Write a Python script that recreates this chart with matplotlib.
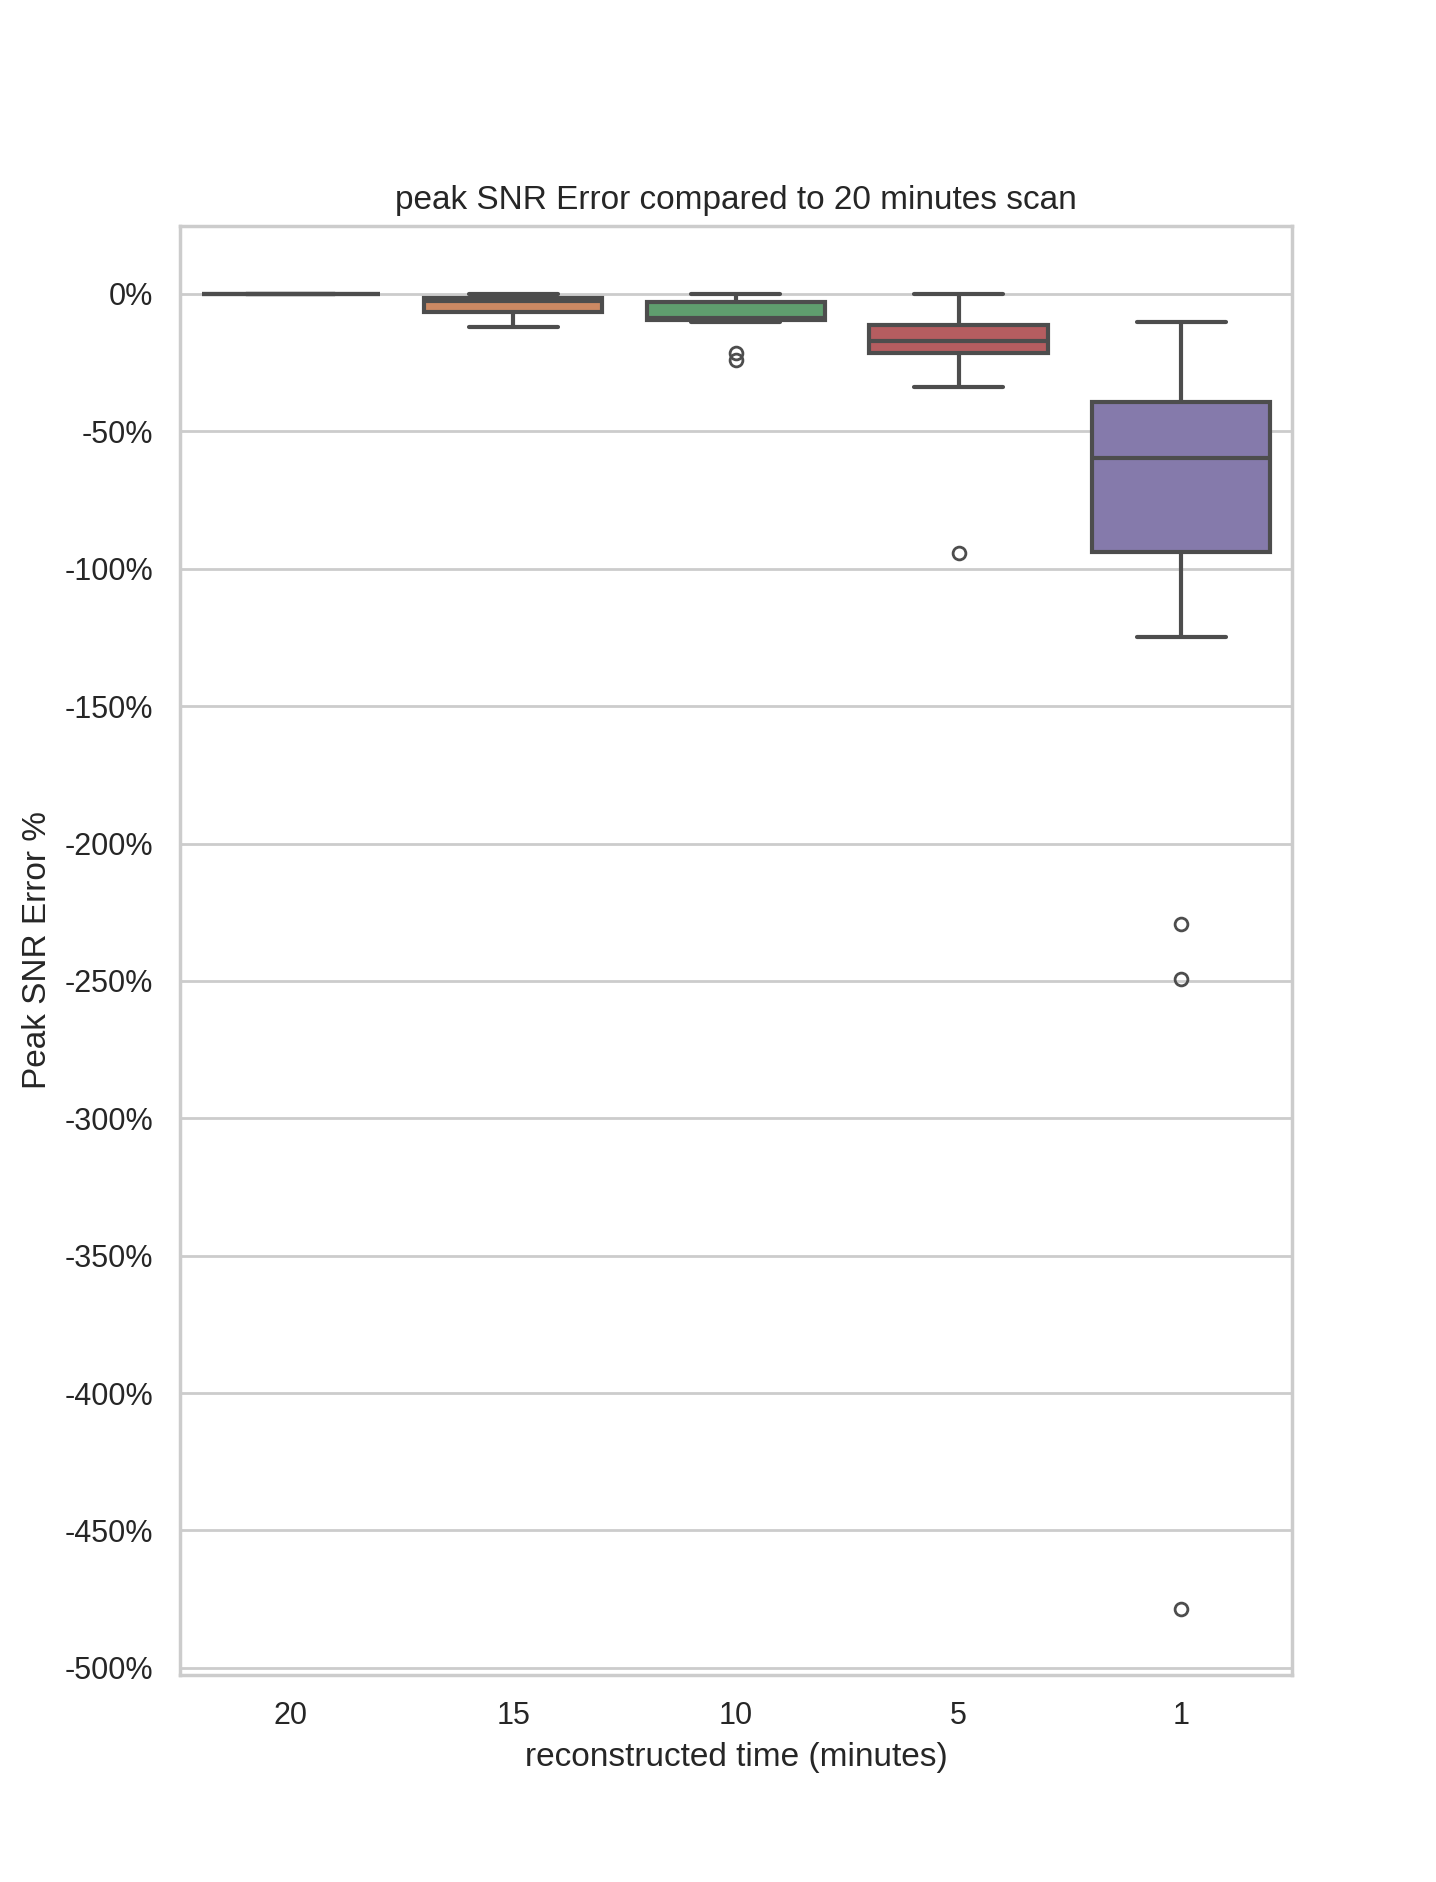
import matplotlib
matplotlib.use("Agg")
import matplotlib.pyplot as plt
import seaborn as sns

# (percent error vs the 20 minute scan)
times = ["20", "15", "10", "5", "1"]
medians = [0.0, -2.5, -8.7, -17.1, -59.7]
q1s = [0.0, -6.7, -9.4, -21.3, -94.0]
q3s = [0.0, -1.4, -3.0, -11.3, -39.3]
whis_lo = [0.0, -11.9, -10.3, -33.7, -124.9]
whis_hi = [0.0, 0.0, 0.0, 0.0, -10.3]
outliers = [[], [], [-21.5, -24.1], [-94.2], [-229.3, -249.4, -478.6]]

sns.set_theme(style="whitegrid")
plt.rcParams['font.family'] = ['Liberation Sans', 'DejaVu Sans']

fig, ax = plt.subplots(figsize=(7.18, 9.41), dpi=200)

stats = []
for i, t in enumerate(times):
    stats.append({
        "label": t,
        "med": medians[i],
        "q1": q1s[i],
        "q3": q3s[i],
        "whislo": whis_lo[i],
        "whishi": whis_hi[i],
        "fliers": outliers[i],
    })

line_color = "#4d4d4d"
lw = 1.5
colors = [sns.desaturate(c, 0.75) for c in sns.color_palette("deep")[:len(times)]]

bp = ax.bxp(stats, positions=range(len(times)), widths=0.8, patch_artist=True,
            boxprops=dict(edgecolor=line_color, linewidth=lw),
            medianprops=dict(color=line_color, linewidth=lw),
            whiskerprops=dict(color=line_color, linewidth=lw),
            capprops=dict(color=line_color, linewidth=lw, solid_capstyle="round"),
            flierprops=dict(marker="o", markerfacecolor="none", markeredgecolor=line_color,
                            markersize=4.6, markeredgewidth=1.0),
            capwidths=0.4)
for patch, c in zip(bp["boxes"], colors):
    patch.set_facecolor(c)

ax.set_xlim(-0.5, len(times) - 0.5)
ax.set_xticks(range(len(times)))
ax.set_xticklabels(times)
ax.xaxis.grid(False)

yt = list(range(-500, 1, 50))
ax.set_yticks(yt)
ax.set_yticklabels([f"{v}%" for v in yt])
ax.set_ylim(-502.6, 24.8)

ax.set_title("peak SNR Error compared to 20 minutes scan")
ax.set_xlabel("reconstructed time (minutes)")
ax.set_ylabel("Peak SNR Error %")

fig.savefig("out.png")
